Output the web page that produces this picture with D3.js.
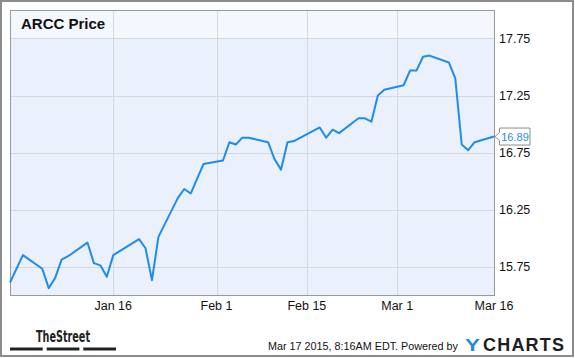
<!DOCTYPE html>
<html>
<head>
<meta charset="utf-8">
<script src="https://cdn.jsdelivr.net/npm/d3@7"></script>
<style>
  body { margin: 0; background: #fff; }
  svg { display: block; font-family: "Liberation Sans", Arial, sans-serif; }
</style>
</head>
<body>
<script>
// ARCC daily close, trading days Dec 31 2014 - Mar 16 2015
var dates = ["2014-12-31","2015-01-02","2015-01-05","2015-01-06","2015-01-07","2015-01-08","2015-01-09",
  "2015-01-12","2015-01-13","2015-01-14","2015-01-15","2015-01-16","2015-01-20","2015-01-21","2015-01-22",
  "2015-01-23","2015-01-26","2015-01-27","2015-01-28","2015-01-29","2015-01-30","2015-02-02","2015-02-03",
  "2015-02-04","2015-02-05","2015-02-06","2015-02-09","2015-02-10","2015-02-11","2015-02-12","2015-02-13",
  "2015-02-17","2015-02-18","2015-02-19","2015-02-20","2015-02-23","2015-02-24","2015-02-25","2015-02-26",
  "2015-02-27","2015-03-02","2015-03-03","2015-03-04","2015-03-05","2015-03-06","2015-03-09","2015-03-10",
  "2015-03-11","2015-03-12","2015-03-13","2015-03-16"];
var prices = [15.61,15.85,15.73,15.56,15.65,15.81,15.84,
  15.96,15.78,15.76,15.66,15.85,15.99,15.91,15.63,
  16.01,16.35,16.43,16.39,16.52,16.65,16.68,16.84,
  16.82,16.88,16.88,16.84,16.69,16.60,16.84,16.85,
  16.97,16.88,16.95,16.92,17.05,17.05,17.02,17.25,
  17.30,17.34,17.47,17.47,17.59,17.60,17.54,17.40,
  16.82,16.77,16.84,16.89];
var yTicks = [15.75,16.25,16.75,17.25,17.75];
var xTickDates = ["2015-01-16","2015-02-01","2015-02-15","2015-03-01","2015-03-16"];
var xTickLabels = ["Jan 16","Feb 1","Feb 15","Mar 1","Mar 16"];

var width=575;
var height=358;
var plotLeft=10, plotRight=494, plotTop=10, plotBottom=295;
var blue="#1f8ceb";

function drawChart()
{
  var parse=d3.timeParse("%Y-%m-%d");
  var data=dates.map(function(d,i){ return {date:parse(d), price:prices[i]}; });

  var svg=d3.select("body")
            .append("svg")
            .attr("width",width)
            .attr("height",height);

  var x=d3.scaleTime()
          .domain([parse("2014-12-31"),parse("2015-03-16")])
          .range([plotLeft,plotRight]);
  var y=d3.scaleLinear()
          .domain([15.5,18.0])
          .range([plotBottom,plotTop]);

  // outer frame
  svg.append("rect")
     .attr("x",1).attr("y",1)
     .attr("width",572).attr("height",355)
     .attr("fill","#fff")
     .attr("stroke","#8c8c8c")
     .attr("stroke-width",2);

  // plot background + lighter title band
  svg.append("rect")
     .attr("x",plotLeft).attr("y",plotTop)
     .attr("width",plotRight-plotLeft).attr("height",plotBottom-plotTop)
     .attr("fill","#eaf1fc");
  svg.append("rect")
     .attr("x",plotLeft).attr("y",plotTop)
     .attr("width",plotRight-plotLeft).attr("height",y(17.75)-plotTop)
     .attr("fill","#f4f7fe");

  // gridlines
  svg.append("g")
     .selectAll("line")
     .data(yTicks)
     .enter()
     .append("line")
     .attr("x1",plotLeft).attr("x2",plotRight)
     .attr("y1",function(d){return Math.round(y(d))+0.5;})
     .attr("y2",function(d){return Math.round(y(d))+0.5;})
     .attr("stroke","#d5d8de");
  svg.append("g")
     .selectAll("line")
     .data(xTickDates.slice(0,4))
     .enter()
     .append("line")
     .attr("y1",plotTop).attr("y2",plotBottom)
     .attr("x1",function(d){return Math.round(x(parse(d)))+0.5;})
     .attr("x2",function(d){return Math.round(x(parse(d)))+0.5;})
     .attr("stroke","#d5d8de");

  // plot border
  svg.append("rect")
     .attr("x",plotLeft+0.5).attr("y",plotTop+0.5)
     .attr("width",plotRight-plotLeft).attr("height",plotBottom-plotTop)
     .attr("fill","none")
     .attr("stroke","#999");

  // title
  svg.append("text")
     .attr("x",21).attr("y",29)
     .attr("font-size",15)
     .attr("font-weight","bold")
     .attr("fill","#111")
     .text("ARCC Price");

  // price line
  var line=d3.line()
             .x(function(d){return x(d.date);})
             .y(function(d){return y(d.price);});
  svg.append("path")
     .datum(data)
     .attr("d",line)
     .attr("fill","none")
     .attr("stroke",blue)
     .attr("stroke-width",2)
     .attr("stroke-linejoin","round");

  // y axis labels
  svg.append("g")
     .selectAll("text")
     .data(yTicks)
     .enter()
     .append("text")
     .attr("x",499)
     .attr("y",function(d){return y(d)+4.5;})
     .attr("font-size",12.5)
     .attr("fill","#111")
     .text(function(d){return d3.format(".2f")(d);});

  // x axis labels
  svg.append("g")
     .selectAll("text")
     .data(xTickDates)
     .enter()
     .append("text")
     .attr("x",function(d){return x(parse(d));})
     .attr("y",310)
     .attr("text-anchor","middle")
     .attr("font-size",12.5)
     .attr("fill","#111")
     .text(function(d,i){return xTickLabels[i];});

  // last value flag
  var last=data[data.length-1];
  var lx=x(last.date)+1, ly=y(last.price);
  svg.append("path")
     .attr("d","M"+lx+","+ly+" L"+(lx+4.5)+","+(ly-4)+" L"+(lx+4.5)+","+(ly-8.5)+" L"+(lx+35)+","+(ly-8.5)+
               " L"+(lx+35)+","+(ly+8.5)+" L"+(lx+4.5)+","+(ly+8.5)+" L"+(lx+4.5)+","+(ly+4)+" Z")
     .attr("fill","#fff")
     .attr("stroke","#8c8c8c");
  svg.append("text")
     .attr("x",lx+20).attr("y",ly+4)
     .attr("text-anchor","middle")
     .attr("font-size",11)
     .attr("fill",blue)
     .text(d3.format(".2f")(last.price));

  // footer: TheStreet logo
  svg.append("text")
     .attr("x",36).attr("y",341.5)
     .attr("font-family","'Liberation Sans Narrow','DejaVu Sans Condensed',sans-serif")
     .attr("font-weight","bold")
     .attr("font-size",16)
     .attr("textLength",54)
     .attr("lengthAdjust","spacingAndGlyphs")
     .attr("fill","#222")
     .text("TheStreet");
  svg.append("g")
     .selectAll("rect")
     .data([10,46.7,83.3])
     .enter()
     .append("rect")
     .attr("x",function(d){return d;})
     .attr("y",347.5)
     .attr("width",32.7)
     .attr("height",3)
     .attr("fill","#222");

  // footer: timestamp + ycharts
  svg.append("text")
     .attr("x",268).attr("y",350)
     .attr("font-size",11)
     .attr("textLength",190)
     .attr("lengthAdjust","spacingAndGlyphs")
     .attr("fill","#111")
     .text("Mar 17 2015, 8:16AM EDT.  Powered by");
  svg.append("text")
     .attr("x",465).attr("y",351)
     .attr("font-size",17)
     .attr("font-weight","bold")
     .attr("textLength",15)
     .attr("lengthAdjust","spacingAndGlyphs")
     .attr("fill",blue)
     .text("Y");
  svg.append("text")
     .attr("x",483).attr("y",351)
     .attr("font-size",18)
     .attr("font-weight","bold")
     .attr("textLength",81)
     .attr("lengthAdjust","spacing")
     .attr("fill","#1d1d22")
     .text("CHARTS");
}

window.onload = drawChart;
</script>
</body>
</html>
